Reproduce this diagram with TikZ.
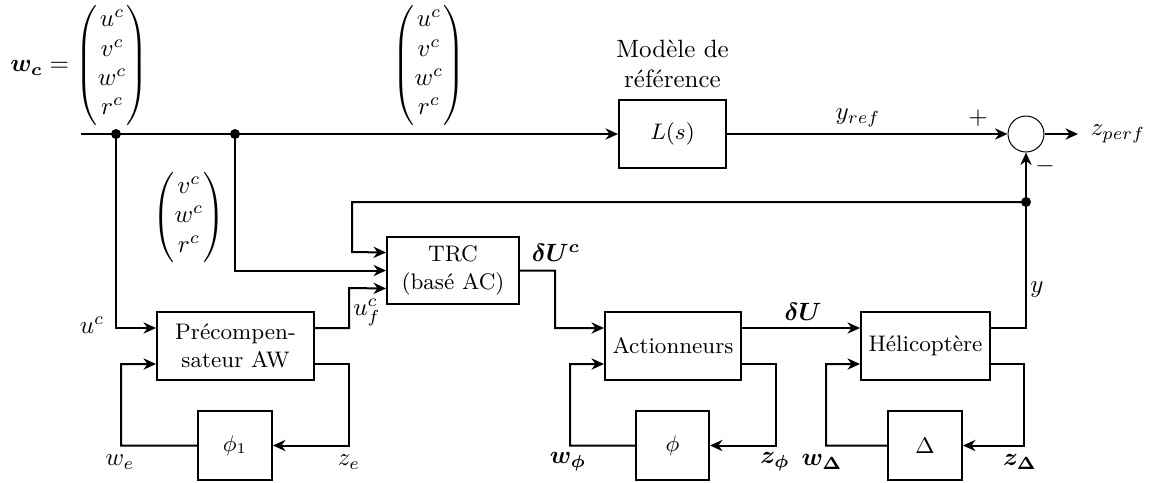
\documentclass[tikz,border=0pt]{standalone}
\usepackage{amsmath,bm}
\usetikzlibrary{arrows.meta,calc}
\begin{document}
\begin{tikzpicture}[x=0.4pt,y=-0.4pt,
  blk/.style={draw,thick,inner sep=0pt,align=center,font=\small,minimum height=27.2pt},
  arr/.style={thick,-{Stealth[length=5pt,width=4.5pt]}},
  mat/.style={inner sep=0pt},
  dot/.style={circle,fill,inner sep=0pt,minimum size=4pt}]
\useasboundingbox (0,0) rectangle (1149,482);

% nodes
\node[blk,minimum width=42.8pt] (L) at (672.5,134) {$L(s)$};
\node[align=center,anchor=south] (Llab) at (672.5,97) {Modèle de\\référence};
\node[draw,circle,inner sep=0pt,minimum size=14.4pt] (S) at (1026,134) {};
\node[blk,minimum width=52.8pt,minimum height=26.8pt] (T) at (453,270.5) {TRC\\(basé AC)};
\node[blk,minimum width=62.8pt] (P) at (235.5,346) {Précompen-\\sateur AW};
\node[blk,minimum width=54.4pt] (A) at (673,346) {Actionneurs};
\node[blk,minimum width=51.6pt] (H) at (925.5,346) {Hélicoptère};
\node[blk,minimum width=29.6pt,minimum height=27.6pt] (F1) at (235,445.5) {$\phi_1$};
\node[blk,minimum width=29.2pt,minimum height=27.6pt] (F) at (672.5,445.5) {$\phi$};
\node[blk,minimum width=29.6pt,minimum height=27.6pt] (D) at (925,445.5) {$\Delta$};

% matrices
\node[mat,anchor=east] (wc) at (149,65) {\renewcommand{\arraystretch}{0.98}$\bm{w_c}=\begin{pmatrix}u^c\\v^c\\w^c\\r^c\end{pmatrix}$};
\node[mat] (m2) at (429,65) {\renewcommand{\arraystretch}{0.98}$\begin{pmatrix}u^c\\v^c\\w^c\\r^c\end{pmatrix}$};
\node[mat] (m3) at (189,217) {\renewcommand{\arraystretch}{0.98}$\begin{pmatrix}v^c\\w^c\\r^c\end{pmatrix}$};

% coordinates
\coordinate (in) at (81,134);
\coordinate (d1) at (116,134);
\coordinate (d2) at (235,134);
\coordinate (d3) at (1026,202);
\coordinate (out) at (1078,134);

% main line
\draw[arr] (in) -- (L.west);
\draw[arr] (L.east) -- (S.west);
\draw[arr] (S.east) -- (out);
\node[dot] at (d1) {};
\node[dot] at (d2) {};
\node[dot] at (d3) {};

% to precompensator
\draw[arr] (d1) |- ([yshift=7.2pt]P.west);
% to TRC
\draw[arr] (d2) |- (T.west);
% u_f^c
\draw[arr] ([yshift=7.2pt]P.east) -| (349,288) -- ([yshift=-7.2pt]T.west);
% feedback
\draw[arr] ([yshift=7.2pt]H.east) -| (d3) -- (S.south);
\draw[arr] (d3) -| (352,252) -- ([yshift=7.2pt]T.west);
% TRC -> Actionneurs
\draw[arr] (T.east) -| (555,328) -- ([yshift=7.2pt]A.west);
% Actionneurs -> Helico
\draw[arr] ([yshift=7.2pt]A.east) -- ([yshift=7.2pt]H.west);

% loops
\draw[arr] ([yshift=-7.2pt]P.east) -| (349,445.5) -- (F1.east);
\draw[arr] (F1.west) -| (121,364) -- ([yshift=-7.2pt]P.west);
\draw[arr] ([yshift=-7.2pt]A.east) -| (776,445.5) -- (F.east);
\draw[arr] (F.west) -| (570,364) -- ([yshift=-7.2pt]A.west);
\draw[arr] ([yshift=-7.2pt]H.east) -| (1024,445.5) -- (D.east);
\draw[arr] (D.west) -| (826,364) -- ([yshift=-7.2pt]H.west);

% labels
\node (yref) at (858,118) {$y_{ref}$};
\node (plus) at (978,118) {$+$};
\node (minus) at (1045,166) {$-$};
\node[anchor=west] (zperf) at (1082,134) {$z_{perf}$};
\node (dUc) at (556,253) {$\bm{\delta U^c}$};
\node (dU) at (803,312) {$\bm{\delta U}$};
\node (ylab) at (1037,290) {$y$};
\node (uc) at (92,325) {$u^c$};
\node (ufc) at (367,312) {$u_f^c$};
\node (we) at (120,462) {$w_e$};
\node (ze) at (349,462) {$z_e$};
\node (wphi) at (568,462) {$\bm{w_\phi}$};
\node (zphi) at (775,462) {$\bm{z_\phi}$};
\node (wD) at (822,462) {$\bm{w_\Delta}$};
\node (zD) at (1020,462) {$\bm{z_\Delta}$};
\end{tikzpicture}
\end{document}
